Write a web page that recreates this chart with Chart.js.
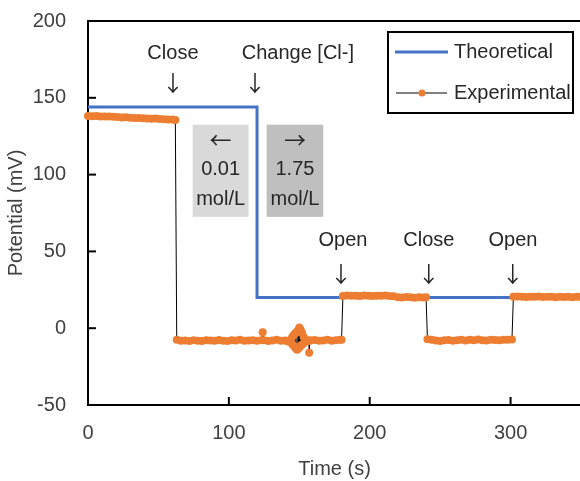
<!DOCTYPE html>
<html>
<head>
<meta charset="utf-8">
<script src="https://cdn.jsdelivr.net/npm/chart.js@4"></script>
<style>
  body { margin: 0; background: #fff; }
  canvas { display: block; }
</style>
</head>
<body>
<canvas id="myChart" width="580" height="481"></canvas>
<script>
// theoretical response (step)
let theoTime = [0, 120, 120, 350];
let theoPotential = [144, 144, 20, 20];

// experimental readings
let expTime = [
  0, 3, 6, 9, 12, 15, 18, 21, 24, 27, 30, 33, 36, 39, 42, 45, 48, 51, 54, 57, 60, 62,
  63, 66, 69, 72, 75, 78, 81, 84, 87, 90, 93, 96, 99, 102, 105, 108, 111, 114, 117, 120,
  123, 124, 125, 128, 131, 134, 137, 140, 142, 144, 144.5, 145, 145.5, 146, 146.5, 147,
  147.5, 148, 148.5, 149, 149.5, 150, 150.5, 151, 151.5, 152, 152.5, 153, 153.5, 154,
  155, 156, 156.8, 157, 157.2, 158, 161, 164, 167, 170, 173, 176, 179, 180,
  181, 184, 187, 190, 193, 196, 199, 202, 205, 208, 211, 214, 217, 220, 223, 226, 229,
  232, 235, 238, 240,
  241, 244, 247, 250, 253, 256, 259, 262, 265, 268, 271, 274, 277, 280, 283, 286, 289,
  292, 295, 298, 301,
  302, 305, 308, 311, 314, 317, 320, 323, 326, 329, 332, 335, 338, 341, 344, 347, 350
];
let expPotential = [
  138.2, 138.0, 138.1, 137.9, 137.8, 137.9, 137.6, 137.5, 137.2, 137.3, 137.0, 136.8,
  136.9, 136.7, 136.6, 136.4, 136.5, 136.2, 136.1, 135.9, 135.8, 135.6,
  -7.5, -8.2, -8.0, -8.4, -7.9, -8.1, -8.3, -7.8, -8.0, -8.2, -7.7, -8.1, -8.3, -7.9,
  -8.0, -7.6, -8.2, -8.0, -7.8, -8.1,
  -7.9, -2.6, -7.8, -8.3, -8.0, -7.6, -8.2, -8.0, -8.6, -9.0, -6.5, -10.5, -5.0, -11.5,
  -4.0, -12.5, -3.0, -13.5, -14.0, -1.5, -13.0, 0.5, -12.0, -1.0, -11.0, -3.0, -10.5,
  -5.5, -9.5, -7.0, -8.5, -8.0, -8.2, -16.0, -8.1, -7.9, -7.7, -8.2, -8.0, -7.6,
  -8.1, -7.8, -7.5, -7.6,
  21.0, 21.3, 21.1, 21.2, 21.0, 21.3, 21.1, 21.0, 21.2, 21.1, 21.3, 21.0, 20.8, 20.2,
  20.0, 20.3, 20.1, 19.9, 20.2, 20.0, 20.1,
  -7.2, -7.6, -8.0, -8.3, -7.9, -7.7, -8.1, -7.8, -7.5, -8.0, -7.6, -7.9, -7.4, -7.8,
  -8.0, -7.5, -7.7, -7.9, -7.5, -7.6, -7.3,
  20.4, 20.6, 20.5, 20.3, 20.5, 20.4, 20.6, 20.3, 20.4, 20.5, 20.2, 20.4, 20.3, 20.5,
  20.2, 20.4, 20.3
];

let seriesNames = ['Theoretical', 'Experimental'];
let blue = '#4472C4';
let orange = '#ED7D31';
let font = '"Liberation Sans", Arial, sans-serif';
let arrowFont = '"Noto Sans CJK JP", "DejaVu Sans", sans-serif';

// event labels: [text, x, y]
let notes = [
  ['Close', 60.3, 179], ['\u2193', 60.3, 159.8],
  ['Change [Cl-]', 149, 179], ['\u2193', 118.6, 159.8],
  ['Open', 181, 57], ['\u2193', 179.6, 35.5],
  ['Close', 242, 57], ['\u2193', 242, 35.5],
  ['Open', 301.7, 57], ['\u2193', 301.5, 35.5]
];
// concentration boxes: [x0, x1, y0, y1, fill, lines]
let boxes = [
  [74.3, 114, 72.5, 132.5, '#d9d9d9', ['\u2190', '0.01', 'mol/L']],
  [126.8, 167, 72.5, 132.5, '#bfbfbf', ['\u2192', '1.75', 'mol/L']]
];
let boxLineY = [122.6, 103.5, 83.5];

function pts(xs, ys) {
  return xs.map((x, i) => ({ x: x, y: ys[i] }));
}

function isArrow(s) {
  return s >= '\u2190' && s <= '\u2199';
}

let decor = {
  id: 'decor',
  afterLayout(chart) {
    // plot runs past the right edge of the picture
    let sx = chart.scales.x, a = chart.chartArea, r = 581;
    sx.right = r;
    sx.width = r - sx.left;
    sx.configure();
    a.right = r;
    a.width = r - a.left;
  },
  beforeDatasetsDraw(chart) {
    let c = chart.ctx, sx = chart.scales.x, sy = chart.scales.y;
    boxes.forEach(b => {
      let x0 = sx.getPixelForValue(b[0]), x1 = sx.getPixelForValue(b[1]);
      let y0 = sy.getPixelForValue(b[3]), y1 = sy.getPixelForValue(b[2]);
      c.fillStyle = b[4];
      c.fillRect(x0, y0, x1 - x0, y1 - y0);
    });
  },
  afterDraw(chart) {
    let c = chart.ctx, sx = chart.scales.x, sy = chart.scales.y, a = chart.chartArea;
    c.save();
    c.strokeStyle = '#000';
    c.lineWidth = 2;
    c.beginPath();
    c.moveTo(a.left - 1, a.top);
    c.lineTo(a.right, a.top);
    c.moveTo(a.left - 1, a.bottom);
    c.lineTo(a.right, a.bottom);
    c.stroke();
    // inside ticks
    sy.ticks.forEach(t => {
      let y = sy.getPixelForValue(t.value);
      c.beginPath(); c.moveTo(a.left, y); c.lineTo(a.left + 8, y); c.stroke();
    });
    sx.ticks.forEach(t => {
      if (t.value <= 0 || t.value > 300 || t.value % 100 !== 0) return;
      let x = sx.getPixelForValue(t.value);
      c.beginPath(); c.moveTo(x, a.bottom); c.lineTo(x, a.bottom - 8); c.stroke();
    });

    c.fillStyle = '#262626';
    c.textAlign = 'center';
    c.textBaseline = 'middle';
    let put = (s, x, y) => {
      c.font = isArrow(s) ? '22px ' + arrowFont : '20px ' + font;
      c.fillText(s, x, y);
    };
    notes.forEach(n => put(n[0], sx.getPixelForValue(n[1]), sy.getPixelForValue(n[2])));
    boxes.forEach(b => {
      let cx = sx.getPixelForValue((b[0] + b[1]) / 2);
      b[5].forEach((s, i) => put(s, cx, sy.getPixelForValue(boxLineY[i])));
    });

    // legend
    c.lineWidth = 2;
    c.strokeRect(388, 32, 185, 81);
    c.strokeStyle = blue;
    c.lineWidth = 3;
    c.beginPath(); c.moveTo(395, 52); c.lineTo(448, 52); c.stroke();
    c.strokeStyle = '#000';
    c.lineWidth = 1;
    c.beginPath(); c.moveTo(396, 93); c.lineTo(447, 93); c.stroke();
    c.fillStyle = orange;
    c.beginPath(); c.arc(422, 93, 3.5, 0, Math.PI * 2); c.fill();
    c.fillStyle = '#262626';
    c.textAlign = 'left';
    c.font = '20px ' + font;
    c.fillText(seriesNames[0], 454, 52);
    c.fillText(seriesNames[1], 454, 93);
    c.restore();
  }
};

let ctx = document.getElementById('myChart').getContext('2d');
let myChart = new Chart(ctx, {
  type: 'scatter',
  data: {
    datasets: [{
      label: seriesNames[0],
      data: pts(theoTime, theoPotential),
      showLine: true,
      borderColor: blue,
      borderWidth: 3,
      pointRadius: 0,
      order: 2
    }, {
      label: seriesNames[1],
      data: pts(expTime, expPotential),
      showLine: true,
      borderColor: '#000',
      borderWidth: 1,
      pointRadius: 4,
      pointBorderWidth: 0,
      pointBackgroundColor: orange,
      clip: 6,
      order: 1
    }]
  },
  options: {
    responsive: false,
    animation: false,
    layout: { padding: { top: 21, right: 0, left: 0, bottom: 0 } },
    plugins: { legend: { display: false }, tooltip: { enabled: false } },
    scales: {
      x: {
        min: 0, max: 350,
        afterFit: s => { s.height = 76; s.paddingLeft = 0; s.paddingRight = 0; },
        grid: { display: false, drawTicks: false },
        border: { display: true, color: '#000', width: 2 },
        ticks: {
          stepSize: 50,
          padding: 16,
          color: '#404040',
          font: { size: 20, family: font },
          callback: v => (v % 100 === 0 && v <= 300) ? v : ''
        },
        title: { display: true, text: 'Time (s)', color: '#404040', font: { size: 20, family: font }, padding: 0 }
      },
      y: {
        min: -50, max: 200,
        afterFit: s => { s.width = 88; s.paddingTop = 0; s.paddingBottom = 0; },
        grid: { display: false, drawTicks: false },
        border: { display: true, color: '#000', width: 2 },
        ticks: {
          stepSize: 50,
          padding: 22,
          color: '#404040',
          font: { size: 20, family: font }
        },
        title: { display: true, text: 'Potential (mV)', color: '#404040', font: { size: 20, family: font }, padding: 4 }
      }
    }
  },
  plugins: [decor]
});
</script>
</body>
</html>
